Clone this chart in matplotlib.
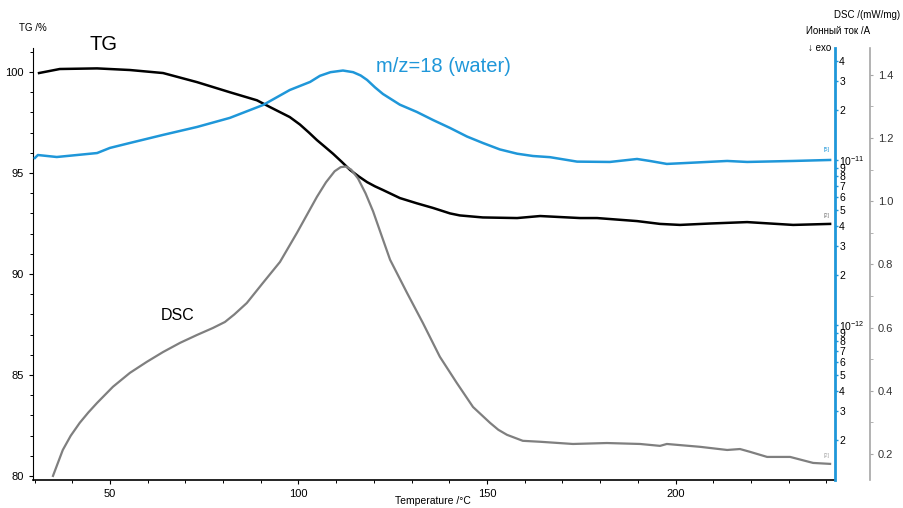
import math

import matplotlib

matplotlib.use("Agg")
import matplotlib.pyplot as plt
from matplotlib.ticker import MultipleLocator, FixedLocator, FuncFormatter

plt.rcParams["font.family"] = ["Liberation Sans", "DejaVu Sans"]
plt.rcParams["mathtext.fontset"] = "custom"
plt.rcParams["mathtext.rm"] = "Liberation Sans"
plt.rcParams["mathtext.it"] = "Liberation Sans:italic"

# ==================== Data ====================
tg_temp = [31.2, 36.7, 46.6, 55.3, 64.1, 73.1, 81.8, 89.0, 92.4, 97.7, 100.4, 102.8,
           104.9, 107.0, 109.2, 111.5, 113.7, 116.0, 118.2, 120.3, 122.4, 126.9,
           131.4, 135.7, 140.2, 142.8, 148.9, 158.0, 164.1, 174.7, 179.2, 189.8,
           195.9, 201.2, 209.2, 219.0, 231.2, 241.0]
tg_val = [99.95, 100.15, 100.18, 100.1, 99.95, 99.5, 99.0, 98.6, 98.27, 97.77, 97.4, 97.0,
          96.63, 96.3, 95.95, 95.55, 95.15, 94.83, 94.55, 94.34, 94.16, 93.76,
          93.5, 93.27, 93.0, 92.9, 92.8, 92.77, 92.87, 92.77, 92.77, 92.62,
          92.48, 92.43, 92.5, 92.57, 92.43, 92.48]

ms_temp = [30.1, 30.9, 35.9, 46.6, 50.0, 55.3, 64.1, 73.1, 81.8, 90.6, 97.7, 103.1,
           105.7, 108.5, 111.8, 114.5, 116.5, 118.2, 120.3, 122.4, 126.9, 131.4,
           135.7, 140.2, 144.7, 148.9, 153.4, 158.0, 162.2, 166.7, 173.9, 182.6,
           189.8, 193.2, 197.7, 203.1, 213.7, 219.0, 231.2, 241.0]
ms_log = [-10.988, -10.970, -10.982, -10.958, -10.927, -10.897, -10.848, -10.800,
          -10.745, -10.667, -10.576, -10.527, -10.490, -10.468, -10.458, -10.468,
          -10.488, -10.515, -10.560, -10.600, -10.665, -10.709, -10.758, -10.806,
          -10.858, -10.897, -10.936, -10.962, -10.976, -10.983, -11.010, -11.012,
          -10.994, -11.006, -11.024, -11.018, -11.006, -11.012, -11.006, -11.0]
ms_val = [10 ** v for v in ms_log]

dsc_temp = [34.9, 36.2, 37.5, 39.6, 42.0, 44.3, 46.6, 50.8, 55.3, 59.8, 64.1, 68.6,
            73.1, 77.3, 80.5, 83.0, 86.3, 90.6, 95.1, 99.6, 104.9, 107.3, 109.6,
            111.2, 112.6, 114.0, 115.8, 117.8, 119.8, 122.0, 124.3, 128.8, 133.0,
            137.5, 142.0, 146.3, 150.8, 153.0, 155.3, 159.5, 164.1, 172.8, 181.8,
            190.6, 195.9, 197.7, 206.5, 213.7, 217.1, 219.8, 224.3, 230.4, 236.5, 241.0]
dsc_val = [0.131, 0.172, 0.213, 0.258, 0.299, 0.332, 0.362, 0.413, 0.457, 0.492, 0.523,
           0.552, 0.577, 0.599, 0.618, 0.642, 0.678, 0.742, 0.808, 0.900, 1.014, 1.060,
           1.095, 1.108, 1.110, 1.100, 1.072, 1.025, 0.968, 0.893, 0.815, 0.710, 0.615,
           0.508, 0.425, 0.349, 0.299, 0.277, 0.261, 0.242, 0.239, 0.232, 0.235, 0.232,
           0.226, 0.232, 0.223, 0.213, 0.216, 0.207, 0.191, 0.191, 0.172, 0.169]

BLUE = "#1f97d9"
GRAY = "#7f7f7f"

# ==================== Figure ====================
fig = plt.figure(figsize=(9.04, 5.08), dpi=100)
ax = fig.add_axes([33 / 904, 1 - 480 / 508, (835 - 33) / 904, (480 - 48) / 508])
ax2 = ax.twinx()
ax3 = ax.twinx()

ax.plot(tg_temp, tg_val, color="black", lw=1.8, zorder=3)
ax2.plot(ms_temp, ms_val, color=BLUE, lw=1.8)
ax3.plot(dsc_temp, dsc_val, color=GRAY, lw=1.6)

# main axis (TG)
ax.set_xlim(29.6, 242.3)
ax.set_ylim(79.8, 101.19)
ax.xaxis.set_major_locator(MultipleLocator(50))
ax.xaxis.set_minor_locator(MultipleLocator(10))
ax.yaxis.set_major_locator(MultipleLocator(5))
ax.yaxis.set_minor_locator(MultipleLocator(1))
ax.tick_params(labelsize=8, length=3, width=0.8)
ax.tick_params(which="minor", length=2, width=0.7)
for side in ("top", "right"):
    ax.spines[side].set_visible(False)
ax.spines["bottom"].set_linewidth(1.2)

# ion current axis (log)
ms_lo, ms_hi = 1.15e-13, 4.77e-11
ax2.set_yscale("log")
ax2.set_ylim(ms_lo, ms_hi)
ax2.spines["right"].set_color(BLUE)
ax2.spines["right"].set_linewidth(2)
for side in ("top", "left", "bottom"):
    ax2.spines[side].set_visible(False)
ms_major = [1e-12, 1e-11]
ms_minor = [k * 10.0 ** e for e in (-13, -12, -11) for k in range(2, 10)
            if ms_lo <= k * 10.0 ** e <= ms_hi]
ax2.yaxis.set_major_locator(FixedLocator(ms_major))
ax2.yaxis.set_minor_locator(FixedLocator(ms_minor))
ax2.yaxis.set_major_formatter(
    FuncFormatter(lambda v, p: r"$\mathregular{10^{%d}}$" % round(math.log10(v))))
ax2.yaxis.set_minor_formatter(
    FuncFormatter(lambda v, p: "%d" % round(v / 10 ** math.floor(math.log10(v) + 1e-9))))
ax2.tick_params(axis="y", which="both", colors=BLUE, labelcolor="black",
                length=2, width=1, pad=1, labelsize=7.5)

# DSC axis
ax3.spines["right"].set_position(("outward", 25.2))
ax3.spines["right"].set_color("#a6a6a6")
ax3.spines["right"].set_linewidth(1.2)
for side in ("top", "left", "bottom"):
    ax3.spines[side].set_visible(False)
ax3.set_ylim(0.118, 1.485)
ax3.yaxis.set_major_locator(FixedLocator([0.2, 0.4, 0.6, 0.8, 1.0, 1.2, 1.4]))
ax3.yaxis.set_minor_locator(FixedLocator([0.3, 0.5, 0.7, 0.9, 1.1, 1.3]))
ax3.yaxis.set_major_formatter(FuncFormatter(lambda v, p: "%.1f" % v))
ax3.tick_params(axis="y", which="both", colors="#a6a6a6", labelcolor="#333333",
                labelsize=8, length=2)

# ==================== Texts ====================
fig.text(19 / 904, 1 - 28 / 508, "TG /%", fontsize=7, ha="left", va="center")
fig.text(900 / 904, 1 - 15 / 508, "DSC /(mW/mg)", fontsize=7, ha="right", va="center")
fig.text(806 / 904, 1 - 31 / 508, "Ионный ток /A", fontsize=7, ha="left", va="center")
fig.text(808 / 904, 1 - 48 / 508, "↓ exo", fontsize=7, ha="left", va="center")
fig.text(433 / 904, 1 - 501 / 508, "Temperature /°C", fontsize=7.5, ha="center", va="center")
fig.text(104 / 904, 1 - 45 / 508, "TG", fontsize=14.5, ha="center", va="center")
fig.text(443 / 904, 1 - 67 / 508, "m/z=18 (water)", fontsize=14.5, ha="center",
         va="center", color=BLUE)
fig.text(178 / 904, 1 - 316 / 508, "DSC", fontsize=11.5, ha="center", va="center")

# little curve markers at the right end
for y_px, label, col in ((150, "[5]", BLUE), (216, "[2]", GRAY), (455, "[2]", "#aaaaaa")):
    fig.text(827 / 904, 1 - y_px / 508, label, fontsize=4, ha="center", va="center", color=col)

fig.savefig("out.png", dpi=100)
plt.close(fig)
